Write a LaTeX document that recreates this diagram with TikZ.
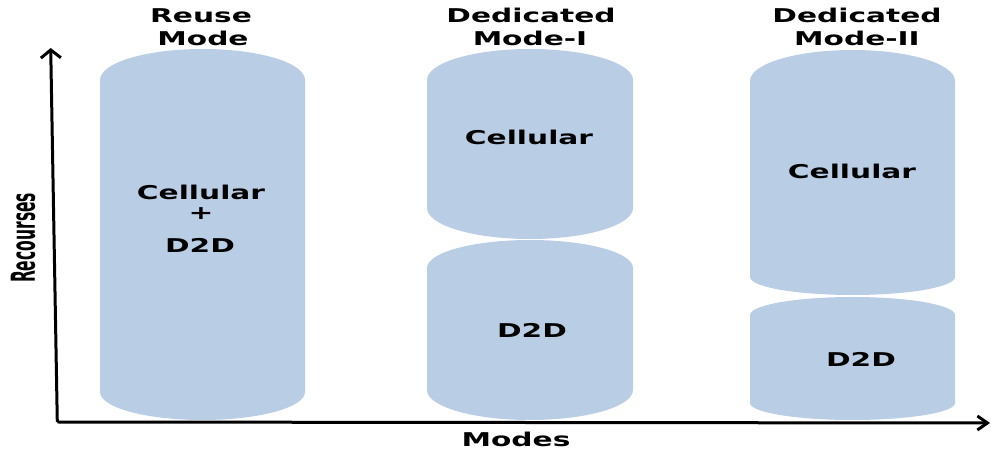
\documentclass[tikz,border=0pt]{standalone}
\usepackage{fontspec}
\usepackage{graphicx}
\setmainfont{DejaVu Sans}
\usetikzlibrary{arrows.meta}
\definecolor{cylblue}{RGB}{185,205,229}
\newcommand\wlbl[1]{\scalebox{1.56}[1]{#1}}
\tikzset{
  cyl/.style={fill=cylblue},
  lbl/.style={font=\fontsize{19}{19}\selectfont\bfseries, inner sep=0pt, anchor=base},
  axis/.style={line width=3pt}
}
\begin{document}
\begin{tikzpicture}[x=1pt,y=1pt]
\useasboundingbox (0,0) rectangle (991,455);
% cylinders
\fill[cyl] (100,375) arc[start angle=180,end angle=0,x radius=102.5,y radius=31] -- (305,63) arc[start angle=0,end angle=-180,x radius=102.5,y radius=28] -- cycle;
\fill[cyl] (427,375) arc[start angle=180,end angle=0,x radius=103,y radius=31] -- (633,247) arc[start angle=0,end angle=-180,x radius=103,y radius=31] -- cycle;
\fill[cyl] (427,187) arc[start angle=180,end angle=0,x radius=103,y radius=28] -- (633,65) arc[start angle=0,end angle=-180,x radius=103,y radius=30] -- cycle;
\fill[cyl] (750,374) arc[start angle=180,end angle=0,x radius=102.5,y radius=31] -- (955,178) arc[start angle=0,end angle=-180,x radius=102.5,y radius=18] -- cycle;
\fill[cyl] (750,140) arc[start angle=180,end angle=0,x radius=102.5,y radius=18] -- (955,52) arc[start angle=0,end angle=-180,x radius=102.5,y radius=17] -- cycle;
% axes
\coordinate (origin) at (57.3,33);
\coordinate (ytip) at (50.7,407);
\coordinate (xtip) at (990,32);
\draw[axis,-{Straight Barb[length=8pt,width=20pt]}] (origin) -- (ytip);
\draw[axis,-{Straight Barb[length=10pt,width=14pt]}] (origin) -- (xtip);
% titles
\node[lbl] (t1a) at (201,432) {\wlbl{Reuse}};
\node[lbl] (t1b) at (203,409) {\wlbl{Mode}};
\node[lbl] (t2a) at (531,432) {\wlbl{Dedicated}};
\node[lbl] (t2b) at (530,409) {\wlbl{Mode-I}};
\node[lbl] (t3a) at (857,432) {\wlbl{Dedicated}};
\node[lbl] (t3b) at (857,409) {\wlbl{Mode-II}};
% cylinder labels
\node[lbl] (c1a) at (201,255) {\wlbl{Cellular}};
\node[lbl,anchor=center] (c1b) at (201,241) {\wlbl{+}};
\node[lbl] (c1c) at (200,202) {\wlbl{D2D}};
\node[lbl] (c2) at (529,310) {\wlbl{Cellular}};
\node[lbl] (d2) at (532,117) {\wlbl{D2D}};
\node[lbl] (c3) at (852,276) {\wlbl{Cellular}};
\node[lbl] (d3) at (861,88) {\wlbl{D2D}};
% axis labels
\node[lbl] (modes) at (516,8) {\wlbl{Modes}};
\node[inner sep=0pt, rotate=90] (rec) at (23,217) {\scalebox{0.47}[1]{\fontsize{33}{33}\selectfont\bfseries Recourses}};
\end{tikzpicture}
\end{document}
